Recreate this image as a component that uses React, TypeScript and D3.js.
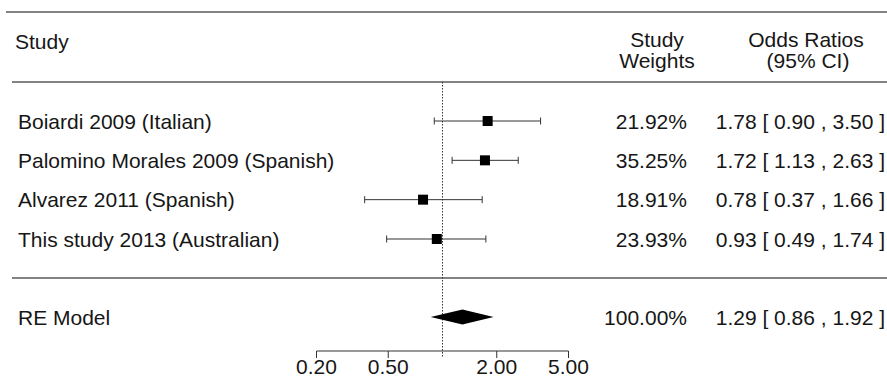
import * as d3 from "d3";

const studies = [
  "Boiardi 2009 (Italian)",
  "Palomino Morales 2009 (Spanish)",
  "Alvarez 2011 (Spanish)",
  "This study 2013 (Australian)",
];
const weights = [21.92, 35.25, 18.91, 23.93];
const oddsRatios = [1.78, 1.72, 0.78, 0.93];
const ciLower = [0.9, 1.13, 0.37, 0.49];
const ciUpper = [3.5, 2.63, 1.66, 1.74];

const pooledLabel = "RE Model";
const pooled = { weight: 100, or: 1.29, lo: 0.86, hi: 1.92 };

const tickValues = [0.2, 0.5, 1, 2, 5];
const labelledTicks = [0.2, 0.5, 2, 5];

const W = 887;
const H = 377;
const FONT = "'Liberation Sans', Arial, sans-serif";
const FS = 21;
const INK = "#161616";

export default function App() {
  const x = d3.scaleLog().domain([0.2, 5]).range([316.5, 568.5]);
  const y = d3.scaleLinear().domain([0, studies.length - 1]).range([121, 239]);
  const fmt = d3.format(".2f");
  const ciText = (o: number, l: number, h: number) => `${fmt(o)} [ ${fmt(l)} , ${fmt(h)} ]`;

  const topY = 12;
  const headY = 82;
  const sepY = 278;
  const pooledY = 317;
  const axisY = 351;
  const tickLen = 7;
  const sq = 10;
  const cap = 3.5;
  const dia = 7.5;

  const diamond = d3.line<[number, number]>()([
    [x(pooled.lo), pooledY],
    [x(pooled.or), pooledY - dia],
    [x(pooled.hi), pooledY],
    [x(pooled.or), pooledY + dia],
  ]) + "Z";

  return (
    <svg
      width={W}
      height={H}
      style={{ position: "absolute", left: 0, top: 0, background: "#fff" }}
      fontFamily={FONT}
      fontSize={FS}
      fill={INK}
    >
      {/* frame lines */}
      <line x1={6} x2={W} y1={topY} y2={topY} stroke="#5a5a5a" strokeWidth={1.6} />
      <line x1={12} x2={W} y1={headY} y2={headY} stroke="#5a5a5a" strokeWidth={1.6} />
      <line x1={12} x2={W} y1={sepY} y2={sepY} stroke="#5a5a5a" strokeWidth={1.6} />

      {/* headers */}
      <text x={15} y={49}>Study</text>
      <text x={657} y={46.5} textAnchor="middle">Study</text>
      <text x={657} y={68} textAnchor="middle">Weights</text>
      <text x={806} y={46.5} textAnchor="middle">Odds Ratios</text>
      <text x={808} y={68} textAnchor="middle">(95% CI)</text>

      {/* reference line at OR = 1 */}
      <line
        x1={x(1)}
        x2={x(1)}
        y1={headY}
        y2={axisY + tickLen}
        stroke="#333"
        strokeWidth={1}
        strokeDasharray="1.5,1.5"
      />

      {/* studies */}
      {studies.map((s, i) => {
        const yy = y(i);
        return (
          <g key={s}>
            <text x={18} y={yy + 7.5}>{s}</text>
            <line x1={x(ciLower[i])} x2={x(ciUpper[i])} y1={yy} y2={yy} stroke="#333" strokeWidth={1} />
            <line x1={x(ciLower[i])} x2={x(ciLower[i])} y1={yy - cap} y2={yy + cap} stroke="#333" strokeWidth={1} />
            <line x1={x(ciUpper[i])} x2={x(ciUpper[i])} y1={yy - cap} y2={yy + cap} stroke="#333" strokeWidth={1} />
            <rect x={x(oddsRatios[i]) - sq / 2} y={yy - sq / 2} width={sq} height={sq} fill="#000" />
            <text x={687} y={yy + 7.5} textAnchor="end">{fmt(weights[i])}%</text>
            <text x={885} y={yy + 7.5} textAnchor="end">{ciText(oddsRatios[i], ciLower[i], ciUpper[i])}</text>
          </g>
        );
      })}

      {/* pooled estimate */}
      <text x={18} y={pooledY + 7.5}>{pooledLabel}</text>
      <path d={diamond} fill="#000" />
      <text x={687} y={pooledY + 7.5} textAnchor="end">{fmt(pooled.weight)}%</text>
      <text x={885} y={pooledY + 7.5} textAnchor="end">{ciText(pooled.or, pooled.lo, pooled.hi)}</text>

      {/* axis */}
      <line x1={x(0.2)} x2={x(5)} y1={axisY} y2={axisY} stroke="#333" strokeWidth={1} />
      {tickValues
        .filter((t) => t !== 1)
        .map((t) => (
          <line key={t} x1={x(t)} x2={x(t)} y1={axisY} y2={axisY + tickLen} stroke="#333" strokeWidth={1} />
        ))}
      {labelledTicks.map((t) => (
        <text key={t} x={x(t)} y={axisY + 23} textAnchor="middle">
          {fmt(t)}
        </text>
      ))}
    </svg>
  );
}
